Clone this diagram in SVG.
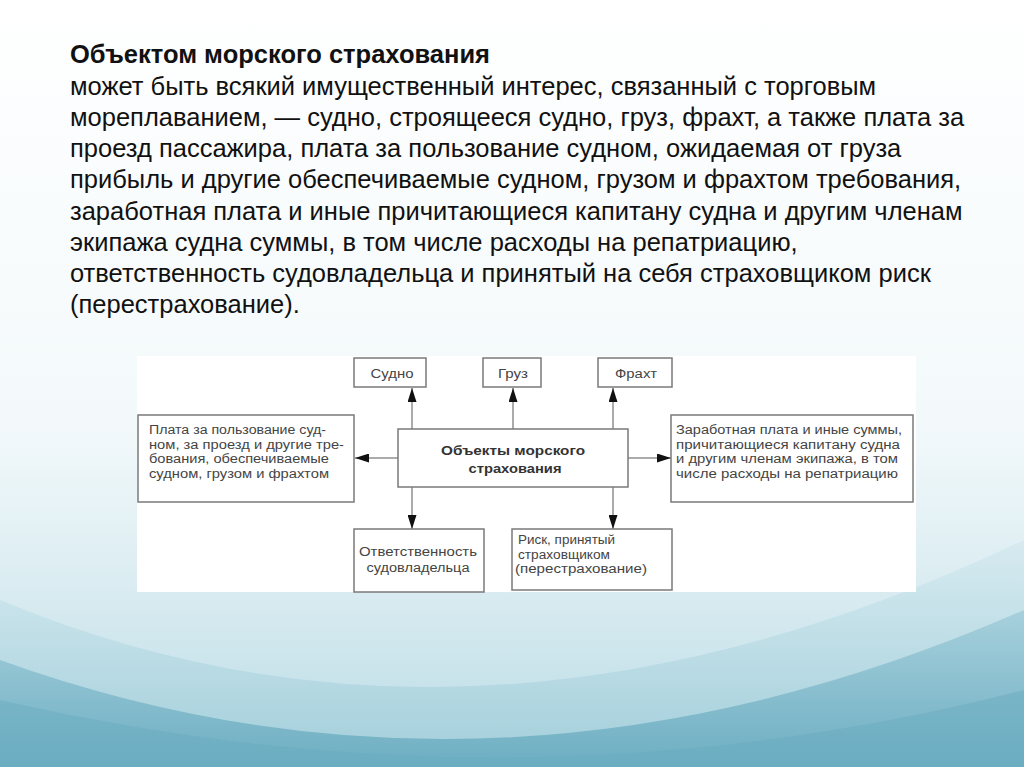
<svg xmlns="http://www.w3.org/2000/svg" width="1024" height="767" viewBox="0 0 1024 767">
<defs>
<linearGradient id="bg" x1="0" y1="0" x2="0" y2="1">
<stop offset="0" stop-color="#ffffff"/>
<stop offset="0.55" stop-color="#f3f9fb"/>
<stop offset="0.75" stop-color="#dcedf2"/>
<stop offset="1" stop-color="#b9dbe5"/>
</linearGradient>
<linearGradient id="wave1" x1="0" y1="0" x2="0" y2="1">
<stop offset="0" stop-color="#a7d0dc"/>
<stop offset="1" stop-color="#6daec2"/>
</linearGradient>
<linearGradient id="wave2" x1="0" y1="0" x2="0" y2="1">
<stop offset="0" stop-color="#d4e9ef"/>
<stop offset="1" stop-color="#9ccbd8"/>
</linearGradient>
<marker id="ah" viewBox="0 0 14 9" refX="14" refY="4.5" markerWidth="14" markerHeight="9" markerUnits="userSpaceOnUse" orient="auto">
<path d="M0,0 L14,4.5 L0,9 Z" fill="#111"/>
</marker>
<style>
.title{font-family:"Liberation Sans",Arial,sans-serif;font-size:25.5px;font-weight:bold;fill:#111}
.body{font-family:"Liberation Sans",Arial,sans-serif;font-size:25.5px;fill:#111}
.box{fill:#ffffff;stroke:#7a7a7a;stroke-width:1.5}
.lbl{font-family:"Liberation Sans",Arial,sans-serif;font-size:12.5px;fill:#444}
.lblb{font-family:"Liberation Sans",Arial,sans-serif;font-size:13.5px;font-weight:bold;fill:#333}
.con{stroke:#8f8f8f;stroke-width:1.5;fill:none;marker-end:url(#ah)}
</style>
</defs>
<rect x="0" y="0" width="1024" height="767" fill="url(#bg)"/>
<path d="M0,600 Q 480,800 1024,540 L1024,767 L0,767 Z" fill="url(#wave2)" opacity="0.8"/>
<path d="M0,660 Q 500,840 1024,610 L1024,767 L0,767 Z" fill="url(#wave1)"/>
<path d="M0,700 Q 520,820 1024,690 L1024,767 L0,767 Z" fill="#6aacbf" opacity="0.5"/>

<g id="text">
<text class="title" x="70" y="63">Объектом морского страхования</text>
<text class="body" x="70" y="95">может быть всякий имущественный интерес, связанный с торговым</text>
<text class="body" x="70" y="126">мореплаванием, — судно, строящееся судно, груз, фрахт, а также плата за</text>
<text class="body" x="70" y="157">проезд пассажира, плата за пользование судном, ожидаемая от груза</text>
<text class="body" x="70" y="188">прибыль и другие обеспечиваемые судном, грузом и фрахтом требования,</text>
<text class="body" x="70" y="220">заработная плата и иные причитающиеся капитану судна и другим членам</text>
<text class="body" x="70" y="251">экипажа судна суммы, в том числе расходы на репатриацию,</text>
<text class="body" x="70" y="282">ответственность судовладельца и принятый на себя страховщиком риск</text>
<text class="body" x="70" y="313">(перестрахование).</text>
</g>

<rect x="137" y="356" width="779" height="236" fill="#ffffff"/>

<g id="connectors">
<line class="con" x1="412" y1="429" x2="412" y2="388"/>
<line class="con" x1="513" y1="429" x2="513" y2="388"/>
<line class="con" x1="613" y1="429" x2="613" y2="388"/>
<line class="con" x1="398" y1="458" x2="355" y2="458"/>
<line class="con" x1="628" y1="458" x2="671" y2="458"/>
<line class="con" x1="412" y1="487" x2="412" y2="529"/>
<line class="con" x1="613" y1="487" x2="613" y2="529"/>
</g>

<g id="n-sudno">
<rect class="box" x="354" y="358" width="72" height="29"/>
<text class="lbl" x="392" y="378" text-anchor="middle" textLength="43" lengthAdjust="spacingAndGlyphs">Судно</text>
</g>
<g id="n-gruz">
<rect class="box" x="483" y="358" width="58" height="29"/>
<text class="lbl" x="513" y="378" text-anchor="middle" textLength="30" lengthAdjust="spacingAndGlyphs">Груз</text>
</g>
<g id="n-fraht">
<rect class="box" x="598" y="358" width="74" height="29"/>
<text class="lbl" x="636" y="378" text-anchor="middle" textLength="42" lengthAdjust="spacingAndGlyphs">Фрахт</text>
</g>
<g id="n-center">
<rect class="box" x="398" y="429" width="230" height="58"/>
<text class="lblb" x="513" y="455" text-anchor="middle" textLength="144" lengthAdjust="spacingAndGlyphs">Объекты морского</text>
<text class="lblb" x="515" y="473" text-anchor="middle" textLength="93" lengthAdjust="spacingAndGlyphs">страхования</text>
</g>
<g id="n-left">
<rect class="box" x="138" y="415" width="216" height="87"/>
<text class="lbl" x="149" y="434" textLength="177" lengthAdjust="spacingAndGlyphs">Плата за пользование суд-</text>
<text class="lbl" x="149" y="448.7" textLength="195" lengthAdjust="spacingAndGlyphs">ном, за проезд и другие тре-</text>
<text class="lbl" x="149" y="463.4" textLength="180" lengthAdjust="spacingAndGlyphs">бования, обеспечиваемые</text>
<text class="lbl" x="149" y="478.1" textLength="180" lengthAdjust="spacingAndGlyphs">судном, грузом и фрахтом</text>
</g>
<g id="n-right">
<rect class="box" x="671" y="415" width="242" height="87"/>
<text class="lbl" x="676" y="434" textLength="226" lengthAdjust="spacingAndGlyphs">Заработная плата и иные суммы,</text>
<text class="lbl" x="676" y="448.7" textLength="224" lengthAdjust="spacingAndGlyphs">причитающиеся капитану судна</text>
<text class="lbl" x="676" y="463.4" textLength="222" lengthAdjust="spacingAndGlyphs">и другим членам экипажа, в том</text>
<text class="lbl" x="676" y="478.1" textLength="222" lengthAdjust="spacingAndGlyphs">числе расходы на репатриацию</text>
</g>
<g id="n-otv">
<rect class="box" x="354" y="529" width="130" height="63"/>
<text class="lbl" x="418" y="556" text-anchor="middle" textLength="118" lengthAdjust="spacingAndGlyphs">Ответственность</text>
<text class="lbl" x="418" y="572" text-anchor="middle" textLength="103" lengthAdjust="spacingAndGlyphs">судовладельца</text>
</g>
<g id="n-risk">
<rect class="box" x="512" y="529" width="160" height="61"/>
<text class="lbl" x="518" y="544" textLength="97" lengthAdjust="spacingAndGlyphs">Риск, принятый</text>
<text class="lbl" x="518" y="558.7" textLength="92" lengthAdjust="spacingAndGlyphs">страховщиком</text>
<text class="lbl" x="515" y="573.4" textLength="132" lengthAdjust="spacingAndGlyphs">(перестрахование)</text>
</g>
</svg>
